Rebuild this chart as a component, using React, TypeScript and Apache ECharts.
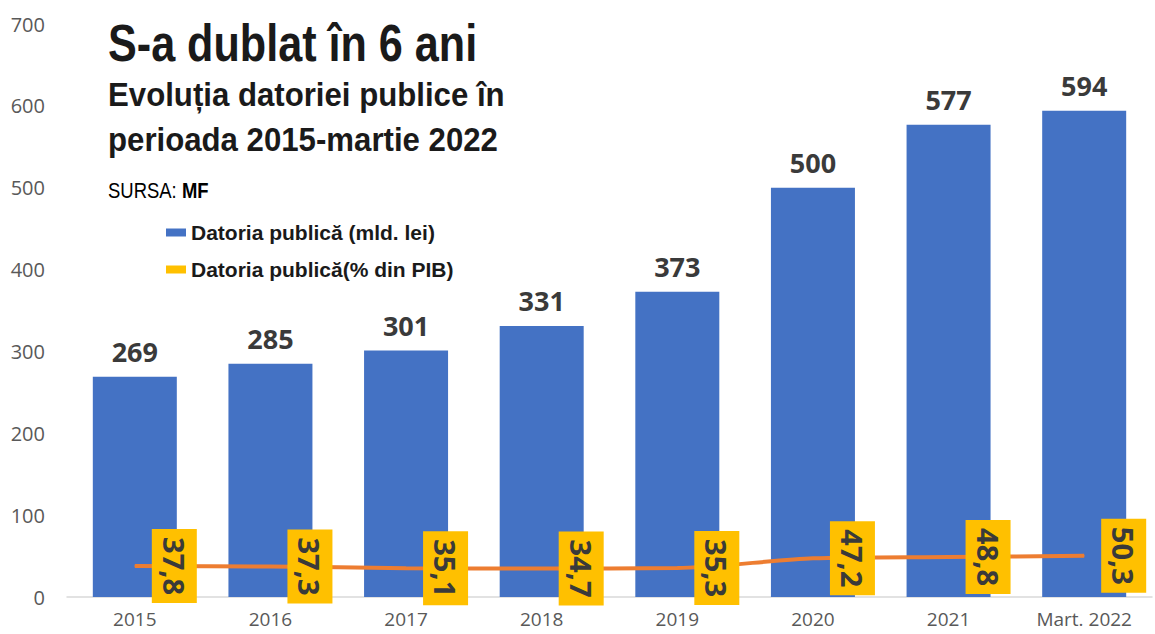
import React, { useEffect, useRef } from "react";
import * as echarts from "echarts";

const categories = ["2015", "2016", "2017", "2018", "2019", "2020", "2021", "Mart. 2022"];
const debtBillionLei = [269, 285, 301, 331, 373, 500, 577, 594];
const debtPctGdp = [37.8, 37.3, 35.1, 34.7, 35.3, 47.2, 48.8, 50.3];
const yMin = 0;
const yMax = 700;
const yStep = 100;

const seriesBarName = "Datoria publică (mld. lei)";
const seriesLineName = "Datoria publică(% din PIB)";

const SANS = '"Liberation Sans", Arial, sans-serif';
const OPEN = '"Open Sans", "Noto Sans", sans-serif';

export default function App() {
  const ref = useRef<HTMLDivElement>(null);
  useEffect(() => {
    const chart = echarts.init(ref.current!, null, { renderer: "svg" });
    chart.setOption({
      animation: false,
      backgroundColor: "#ffffff",
      grid: { left: 67, top: 24, width: 1085, height: 573, containLabel: false },
      legend: {
        orient: "vertical",
        left: 166,
        top: 222,
        padding: 0,
        itemWidth: 20,
        itemHeight: 8,
        itemGap: 16,
        textStyle: { fontFamily: SANS, fontWeight: "bold", fontSize: 21, color: "#1a1a1a" },
        data: [
          { name: seriesBarName, icon: "rect", itemStyle: { color: "#4472C4" } },
          { name: seriesLineName, icon: "rect", itemStyle: { color: "#FFC000" } },
        ],
      },
      xAxis: {
        type: "category",
        data: categories,
        axisLine: { show: true, lineStyle: { color: "#d9d9d9", width: 1.5 } },
        axisTick: { show: false },
        axisLabel: { fontFamily: OPEN, fontSize: 19, color: "#595959", margin: 12 },
      },
      yAxis: {
        type: "value",
        min: yMin,
        max: yMax,
        interval: yStep,
        axisLine: { show: false },
        axisTick: { show: false },
        splitLine: { show: false },
        axisLabel: { fontFamily: OPEN, fontSize: 20, color: "#595959", margin: 22 },
      },
      series: [
        {
          name: seriesBarName,
          type: "bar",
          data: debtBillionLei,
          barWidth: 84,
          itemStyle: { color: "#4472C4" },
          label: {
            show: true,
            position: "top",
            distance: 12,
            fontFamily: OPEN,
            fontWeight: "bold",
            fontSize: 27,
            color: "#3a3a3a",
          },
        },
        {
          name: seriesLineName,
          type: "line",
          data: debtPctGdp,
          smooth: 0.25,
          symbol: "circle",
          symbolSize: 1,
          showSymbol: true,
          lineStyle: { color: "#ED7D31", width: 4 },
          itemStyle: { color: "#ED7D31" },
          z: 5,
          label: {
            show: true,
            position: "right",
            distance: 39,
            align: "center",
            verticalAlign: "middle",
            rotate: -90,
            formatter: (p: any) => String(p.value).replace(".", ","),
            fontFamily: OPEN,
            fontWeight: "bold",
            fontSize: 29,
            lineHeight: 29,
            color: "#3a3a3a",
            backgroundColor: "#FFC000",
            padding: [8, 8],
            width: 58,
          },
        },
      ],
      graphic: [
        {
          type: "text",
          x: 108,
          y: 43.5,
          scaleX: 0.83,
          style: {
            text: "S-a dublat în 6 ani",
            font: `bold 52px ${SANS}`,
            fill: "#1a1a1a",
            verticalAlign: "middle",
          },
        },
        {
          type: "text",
          x: 108,
          y: 95,
          scaleX: 0.945,
          style: {
            text: "Evoluția datoriei publice în",
            font: `bold 33px ${SANS}`,
            fill: "#1a1a1a",
            verticalAlign: "middle",
          },
        },
        {
          type: "text",
          x: 108,
          y: 139.5,
          scaleX: 0.945,
          style: {
            text: "perioada 2015-martie 2022",
            font: `bold 33px ${SANS}`,
            fill: "#1a1a1a",
            verticalAlign: "middle",
          },
        },
        {
          type: "text",
          x: 108,
          y: 190.5,
          scaleX: 0.84,
          style: {
            text: "{a|SURSA: }{b|MF}",
            verticalAlign: "middle",
            rich: {
              a: { fontFamily: SANS, fontSize: 22, color: "#1a1a1a" },
              b: { fontFamily: SANS, fontSize: 22, fontWeight: "bold", color: "#1a1a1a" },
            },
          },
        },
      ],
    });
    return () => chart.dispose();
  }, []);
  return <div ref={ref} style={{ position: "fixed", left: 0, top: 0, width: 1155, height: 634 }} />;
}
